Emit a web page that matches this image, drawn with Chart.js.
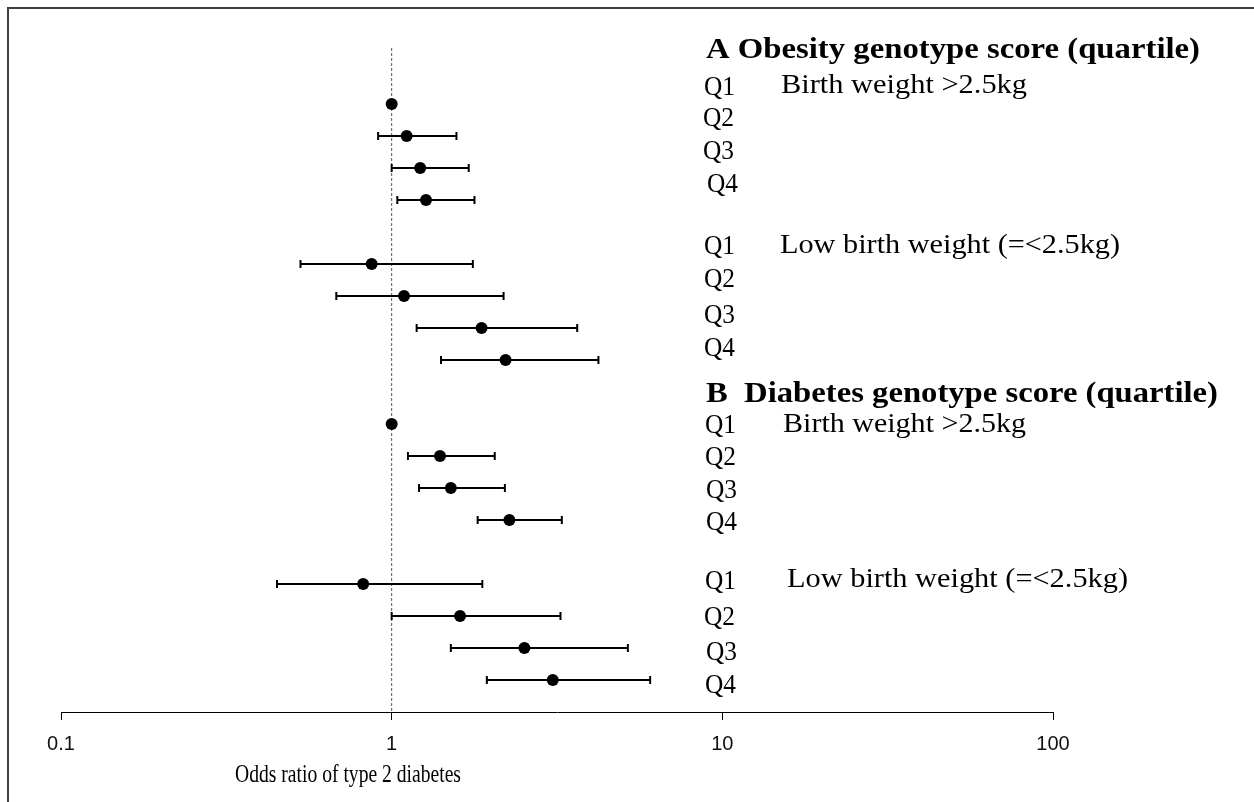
<!DOCTYPE html>
<html>
<head>
<meta charset="utf-8">
<script src="https://cdn.jsdelivr.net/npm/chart.js@4.4.1/dist/chart.umd.min.js"></script>
<style>
  html, body { margin: 0; padding: 0; background: #ffffff; }
  canvas { display: block; }
</style>
</head>
<body>
<canvas id="c" width="1254" height="802"></canvas>
<script>
// ---------------- DATA ----------------
const quartiles = ['Q1', 'Q2', 'Q3', 'Q4'];
const sectionTitles = ['A Obesity genotype score (quartile)', 'B  Diabetes genotype score (quartile)'];
const subgroupTitles = ['Birth weight >2.5kg', 'Low birth weight (=<2.5kg)'];

// rows top-to-bottom: A normal BW Q1-Q4, A low BW Q1-Q4, B normal BW Q1-Q4, B low BW Q1-Q4
const rowPos     = [0, 1, 2, 3,   5, 6, 7, 8,   10, 11, 12, 13,   15, 16, 17, 18];
const oddsRatio  = [1.00, 1.11, 1.22, 1.27,   0.87, 1.09, 1.87, 2.21,   1.00, 1.40, 1.51, 2.27,   0.82, 1.61, 2.52, 3.07];
const ciLower    = [null, 0.91, 1.00, 1.04,   0.53, 0.68, 1.19, 1.41,   null, 1.12, 1.21, 1.82,   0.45, 1.00, 1.51, 1.94];
const ciUpper    = [null, 1.57, 1.71, 1.78,   1.76, 2.18, 3.64, 4.22,   null, 2.05, 2.20, 3.27,   1.88, 3.24, 5.18, 6.05];

const xTicks = [0.1, 1, 10, 100];
const xTitle = 'Odds ratio of type 2 diabetes';
const refValue = 1;

// ---------------- DATASETS ----------------
const datasets = [];
datasets.push({
  type: 'line',
  data: [{ x: refValue, y: -1.75 }, { x: refValue, y: 19 }],
  borderColor: '#555555',
  borderWidth: 1,
  borderDash: [3, 2],
  pointRadius: 0,
  order: 3
});
rowPos.forEach((r, i) => {
  if (ciLower[i] == null) return;
  datasets.push({
    type: 'line',
    data: [{ x: ciLower[i], y: r }, { x: ciUpper[i], y: r }],
    borderColor: '#000000',
    borderWidth: 2,
    pointStyle: 'line',
    pointRotation: 90,
    pointRadius: 4,
    pointBorderWidth: 2,
    pointBorderColor: '#000000',
    order: 2
  });
});
datasets.push({
  type: 'scatter',
  data: rowPos.map((r, i) => ({ x: oddsRatio[i], y: r })),
  backgroundColor: '#000000',
  borderColor: '#000000',
  pointRadius: 6,
  pointBorderWidth: 0,
  order: 1
});

// ---------------- TEXT / FRAME PLUGIN ----------------
function drawText(ctx, text, x, yc, size, bold, targetW) {
  ctx.font = (bold ? 'bold ' : '') + size + 'px "Liberation Serif", "Times New Roman", serif';
  const w = ctx.measureText(text).width;
  const sx = targetW ? targetW / w : 1;
  ctx.save();
  ctx.translate(x, yc + 0.33 * size);
  ctx.scale(sx, 1);
  ctx.textAlign = 'left';
  ctx.textBaseline = 'alphabetic';
  ctx.fillStyle = '#000000';
  ctx.fillText(text, 0, 0);
  ctx.restore();
}

const annotate = {
  id: 'annotate',
  afterDraw(chart) {
    const ctx = chart.ctx;
    const ys = chart.scales.y;
    const area = chart.chartArea;
    const Y = r => ys.getPixelForValue(r);

    // frame (left + top)
    ctx.save();
    ctx.strokeStyle = '#404040';
    ctx.lineWidth = 2;
    ctx.beginPath();
    ctx.moveTo(8, 802);
    ctx.lineTo(8, 8);
    ctx.lineTo(1254, 8);
    ctx.stroke();
    ctx.restore();

    // section headers
    drawText(ctx, sectionTitles[0], 706, Y(-1.75), 30, true, 494);
    drawText(ctx, sectionTitles[1], 706, Y(9.0), 30, true, 512);

    // quartile labels (row-relative label centres)
    const qRows = [
      [-0.5625, 0.406, 1.4375, 2.469],
      [4.406, 5.4375, 6.5625, 7.594],
      [10, 11, 12.03, 13.03],
      [14.875, 16, 17.09, 18.125]
    ];
    const qX = [
      [704, 703, 703, 707],
      [704, 704, 704, 704],
      [705, 705, 706, 706],
      [705, 704, 706, 705]
    ];
    qRows.forEach((rows, g) => {
      rows.forEach((r, k) => drawText(ctx, quartiles[k], qX[g][k], Y(r), 28, false, 31));
    });

    // subgroup labels
    drawText(ctx, subgroupTitles[0], 781, Y(-0.62), 28, false, 246);
    drawText(ctx, subgroupTitles[1], 780, Y(4.38), 28, false, 340);
    drawText(ctx, subgroupTitles[0], 783, Y(9.97), 28, false, 243);
    drawText(ctx, subgroupTitles[1], 787, Y(14.8), 28, false, 341);

    // x axis title
    drawText(ctx, xTitle, 235, area.bottom + 62, 25, false, 226);
  }
};

// ---------------- CHART ----------------
new Chart(document.getElementById('c'), {
  type: 'scatter',
  data: { datasets },
  options: {
    responsive: false,
    animation: false,
    devicePixelRatio: 1,
    layout: { padding: { left: 61, right: 201, top: 8, bottom: 34 } },
    plugins: { legend: { display: false }, tooltip: { enabled: false } },
    scales: {
      x: {
        type: 'logarithmic',
        min: 0.1,
        max: 100,
        afterBuildTicks: s => { s.ticks = xTicks.map(v => ({ value: v })); },
        border: { display: true, color: '#000000', width: 1 },
        grid: { display: true, drawOnChartArea: false, drawTicks: true, tickLength: 8, color: '#000000', lineWidth: 1 },
        ticks: {
          autoSkip: false,
          maxRotation: 0,
          padding: 12,
          color: '#111111',
          font: { family: '"Liberation Sans", Arial, sans-serif', size: 20 },
          callback: v => String(v)
        },
        title: { display: false }
      },
      y: {
        type: 'linear',
        reverse: true,
        min: -3,
        max: 19,
        display: false
      }
    }
  },
  plugins: [annotate]
});
</script>
</body>
</html>
